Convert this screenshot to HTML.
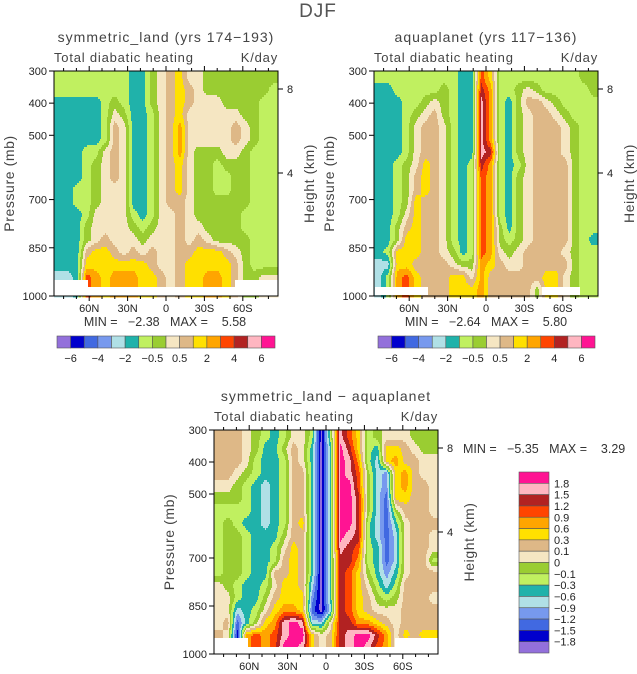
<!DOCTYPE html>
<html><head><meta charset="utf-8"><style>
html,body{margin:0;padding:0;background:#fff;}
svg{display:block;font-family:"Liberation Sans",sans-serif;}
.pre{white-space:pre;}
</style></head><body>
<svg id="fig" width="637" height="674" viewBox="0 0 637 674" xmlns="http://www.w3.org/2000/svg">
<text x="318" y="17" font-size="19" fill="#555" text-anchor="middle" letter-spacing="1">DJF</text>
</svg>
<script>
// level index colour table (0 = lowest ... 15 = highest)
const levelColors = ["#9370DB","#0000CD","#4169E1","#7799EE","#B0E0E6","#20B2AA","#C0F060","#9ACD32","#F5E6C2","#DEB887","#FFE000","#FFA500","#FF4500","#B22222","#FFB6C1","#FF1493"];
// fields encoded as contour-level index per cell (hex), rows top(300mb)->bottom(1000mb), cols 87N->87S
const landRows = ["6666666655789a8877777777","6666666655789a9877777776","5555567655789a9888777766","5555568755689a8888887766","5555569855689b8888898766","5555569855689b8888898766","5556689855689b8777887666","5556789855689a8776777666","5556789855689a8776677666","5566788855689a8776677666","556678885568998777777666","555688886568898777776666","555788887678898877776666","555789888788898987777666","5559aa989898899aaa987666","555aaaaaaa9889aaaaa97666","445cbabbbaa989aabba97788","445cbabbbaa989aabba97788"];
const aquaRows = ["66666666655ca66666666677","55666667655db66787666667","55566787655eb65799876666","55567897655eb65789987666","55568998655eb65789998766","55568998655eb65789998766","55568998655ed65789998766","55678a98656db65689999766","55679a98656cb65789999766","55679a98656cb65789999766","5567a998656cb65789999766","5568a998656cb65789999766","5579a998656cb75789999766","557aa998656cb76789999765","56aaa998756cb87899998766","44aa9999877ba98899999766","46bca999aa8b999999aa8766","46bca999aaab999997aa8766"];
const diffRows = ["9998765688606eca67888777","9998755798505fda65aa9877","9998655698505feb64ab9988","9987655699505fec743ab988","8876545699505ffc743ab998","7776545699505ffd742aa998","6666545699505ffd74279998","676554569a505ffd64258999","6776555799505fed64248998","67765568a9505edc65248998","67765569a9505ddb65248996","67765599a9505dca75358999","8765568aa9405dca86469999","8865579aaa305dca97679998","884568abba204dca98889999","89257abefe448ddbba989999","981bcbceffa89deffdb8a9aa","981bcbcffea89defecb88888"];
const pressureTicks = [300,400,500,700,850,1000];
const latTicks = [60,30,0,-30,-60];
const latTickLabels = ["60N","30N","0","30S","60S"];
const heightTicks = [8,4];
const topBarLabels = ["-6","-4","-2","-0.5","0.5","2","4","6"];
const diffBarLabels = ["1.8","1.5","1.2","0.9","0.6","0.3","0.1","0","-0.1","-0.3","-0.6","-0.9","-1.2","-1.5","-1.8"];
const landStats = ["-2.38","5.58"];
const aquaStats = ["-2.64","5.80"];
const diffStats = ["-5.35","3.29"];

const NS="http://www.w3.org/2000/svg";
const svg=document.getElementById('fig');
function mk(tag,attrs,parent){const e=document.createElementNS(NS,tag);for(const k in attrs)e.setAttribute(k,attrs[k]);(parent||svg).appendChild(e);return e;}
function txt(s,x,y,size,anchor,parent,extra){const t=mk('text',Object.assign({x:x,y:y,'font-size':size,'text-anchor':anchor||'start',fill:'#222'},extra||{}),parent);t.textContent=s;return t;}

function drawPanel(cfg){
  const g=mk('g',{});
  
  
  const {x0,y0,w,h,rows}=cfg;
  const grid=rows.map(r=>r.split('').map(c=>parseInt(c,16)));
  const nr=grid.length,nc=grid[0].length;
  const cw=w/nc,ch=h/nr;
  function val(px,py){
    let u=px/cw-0.5,v=py/ch-0.5;
    u=Math.max(0,Math.min(nc-1,u));v=Math.max(0,Math.min(nr-1,v));
    const i=Math.floor(u),j=Math.floor(v);
    const i1=Math.min(nc-1,i+1),j1=Math.min(nr-1,j+1);
    const fu=u-i,fv=v-j;
    const a=grid[j][i]*(1-fu)+grid[j][i1]*fu;
    const b=grid[j1][i]*(1-fu)+grid[j1][i1]*fu;
    return Math.round(a*(1-fv)+b*fv);
  }
  const field=mk('g',{},g);
  
  
  const step=2;
  for(let py=0;py<h;py+=step){
    let start=0,cur=val(0.5,py+1);
    for(let px=1;px<=w;px++){
      const l=px<w?val(px+0.5,py+1):-1;
      if(l!==cur){
        const r=mk('rect',{x:x0+start,y:y0+py,width:px-start+0.5,height:step+0.5,fill:levelColors[cur]},field);
        
        
        start=px;cur=l;
      }
    }
  }
  cfg.masks.forEach(m=>{const r=mk('rect',{x:m[0],y:m[1],width:m[2]-m[0],height:m[3]-m[1],fill:'#fff'},g);
    });
  const fr=mk('rect',{x:x0,y:y0,width:w,height:h,fill:'none',stroke:'#000','stroke-width':1},g);
  
  const py=p=>y0+(p-300)/700*h;
  const lx=l=>x0+(87.5-l)/175*w;
  const ya=mk('g',{},g);
  pressureTicks.forEach(p=>{mk('line',{x1:x0-5,x2:x0,y1:py(p),y2:py(p),stroke:'#000'},ya);
    const t=txt(String(p),x0-7,py(p)+4,11,'end',ya);});
  const yt=txt('Pressure (mb)',0,0,14,'middle',g,{transform:`translate(${x0-40},${y0+h/2}) rotate(-90)`,fill:'#444','letter-spacing':0.6});
  
  const xa=mk('g',{},g);
  for(let l=80;l>=-80;l-=10){const major=l%30===0;const len=major?5:3;
    mk('line',{x1:lx(l),x2:lx(l),y1:y0+h,y2:y0+h+len,stroke:'#000'},xa);
    mk('line',{x1:lx(l),x2:lx(l),y1:y0,y2:y0-len,stroke:'#000'},xa);}
  latTicks.forEach((l,k)=>{const t=txt(latTickLabels[k],lx(l),y0+h+16,11,'middle',xa);});
  const ha=mk('g',{},g);
  heightTicks.forEach((z,k)=>{const yy=y0+cfg.hPos[k];mk('line',{x1:x0+w,x2:x0+w+5,y1:yy,y2:yy,stroke:'#000'},ha);
    const t=txt(String(z),x0+w+9,yy+4,11,'start',ha);});
  const ht=txt('Height (km)',0,0,14,'middle',g,{transform:`translate(${x0+w+36},${y0+h/2}) rotate(-90)`,fill:'#444','letter-spacing':0.6});
  
  const tt=txt(cfg.title,x0+w/2,y0-29,14,'middle',g,{fill:'#444','letter-spacing':1});
  const l1=txt('Total diabatic heating',x0,y0-9,13,'start',g,{fill:'#444','letter-spacing':0.8});
  const l2=txt('K/day',x0+w,y0-9,13,'end',g,{fill:'#444','letter-spacing':0.8});
  const st=cfg.stats;
  const s=txt(`MIN =   ${st[0].replace('-','\u2212')}   MAX =    ${st[1]}`,cfg.statX,cfg.statY,12.5,cfg.statAnchor,g,{fill:'#333',class:'pre'});
  
}

function hbar(x0,y0,w,h,name){
  const g=mk('g',{});
  const bw=w/levelColors.length;
  levelColors.forEach((c,i)=>{const r=mk('rect',{x:x0+i*bw,y:y0,width:bw,height:h,fill:c,stroke:'#555','stroke-width':0.6},g);
    });
  topBarLabels.forEach((s,k)=>{const t=txt(s.replace('-','\u2212'),x0+(2*k+1)*bw,y0+h+14,11,'middle',g);});
}
function vbar(x0,y0,w,h,name){
  const g=mk('g',{});
  const n=levelColors.length,bh=h/n;
  for(let i=0;i<n;i++){const r=mk('rect',{x:x0,y:y0+i*bh,width:w,height:bh,fill:levelColors[n-1-i],stroke:'#555','stroke-width':0.6},g);
    }
  diffBarLabels.forEach((s,k)=>{const t=txt(s.replace('-','\u2212'),x0+w+5,y0+(k+1)*bh+4,11,'start',g);});
}

drawPanel({name:'panel-symmetric-land',x0:54,y0:71,w:224,h:225,rows:landRows,title:'symmetric_land (yrs 174\u2212193)',
  masks:[[54,280,88,296],[88,287,235,296],[235,280,278,296]],hPos:[18,102],stats:landStats,statX:165,statY:326,statAnchor:'middle'});
drawPanel({name:'panel-aquaplanet',x0:374,y0:71,w:224,h:225,rows:aquaRows,title:'aquaplanet (yrs 117\u2212136)',
  masks:[[375,287,428,295],[542,287,580,295]],hPos:[18,102],stats:aquaStats,statX:486,statY:326,statAnchor:'middle'});
drawPanel({name:'panel-difference',x0:214,y0:430,w:224,h:224,rows:diffRows,title:'symmetric_land \u2212 aquaplanet',
  masks:[[214,638,248,654],[248,647,395,654],[395,638,438,654]],hPos:[18,102],stats:diffStats,statX:463,statY:453,statAnchor:'start'});
hbar(57,336,218,12,'labelbar-symmetric-land');
hbar(378,336,217,12,'labelbar-aquaplanet');
vbar(519,472,30,181,'labelbar-difference');
</script>
</body></html>
